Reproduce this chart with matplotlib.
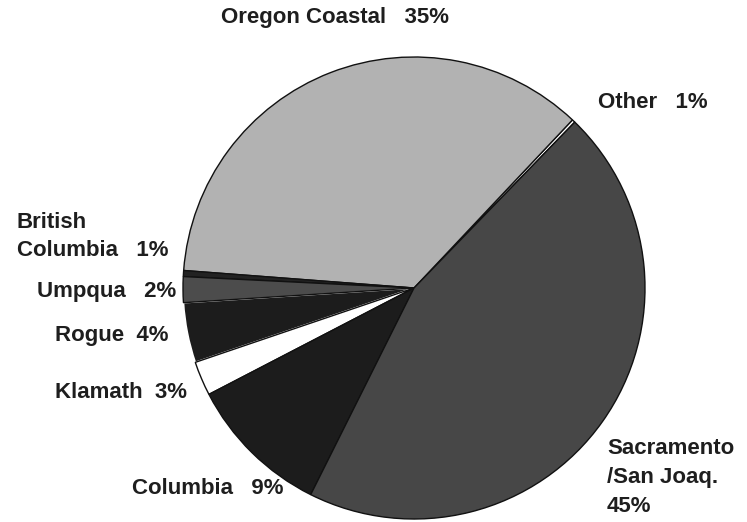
import matplotlib

matplotlib.use("Agg")
import matplotlib.pyplot as plt

# slice order runs counter-clockwise from the "Other" sliver
names = ["Other", "Oregon Coastal", "British Columbia", "Umpqua", "Rogue",
         "Klamath", "Columbia", "Sacramento /San Joaq."]
shares = [0.22, 35.8, 0.42, 1.8, 4.2, 2.4, 10.0, 45.1]
pct_labels = ["1%", "35%", "1%", "2%", "4%", "3%", "9%", "45%"]
colors = ["#ffffff", "#b2b2b2", "#222222", "#4c4c4c", "#1c1c1c",
          "#ffffff", "#1c1c1c", "#474747"]

W, H = 747, 522
fig = plt.figure(figsize=(W / 100, H / 100), dpi=100)
ax = fig.add_axes([0, 0, 1, 1])

wedges, _ = ax.pie(shares, colors=colors, startangle=45.9, counterclock=True,
                   center=(414, H - 288), radius=231,
                   wedgeprops=dict(edgecolor="#111111", linewidth=1.0))
# thin white seam between Umpqua and Rogue, as in the printed chart
wedges[4].set_edgecolor("#ffffff")
wedges[4].set_linewidth(1.2)
wedges[4].set_zorder(0)

# pie() resets the limits, so set them afterwards
ax.set_xlim(0, W)
ax.set_ylim(0, H)
ax.set_aspect("equal")
ax.axis("off")

font = dict(family=["Liberation Sans", "DejaVu Sans"], fontweight="bold",
            fontsize=16, color="#1e1e1e")


def label(x, y_px, text, **kw):
    ax.text(x, H - y_px, text, ha="left", va="center", **font, **kw)


label(221, 17, f"{names[1]}   {pct_labels[1]}")
label(598, 103, f"{names[0]}   {pct_labels[0]}")
label(17, 223, "British")
label(17, 251, f"Columbia   {pct_labels[2]}")
label(37, 292, f"{names[3]}   {pct_labels[3]}")
label(55, 335, f"{names[4]}  {pct_labels[4]}")
label(55, 392, f"{names[5]}  {pct_labels[5]}")
label(132, 488, f"{names[6]}   {pct_labels[6]}")
label(607, 448, "Sacramento")
label(607, 477, "/San Joaq.")
label(607, 506, pct_labels[7])

fig.savefig("out.png", dpi=100)
